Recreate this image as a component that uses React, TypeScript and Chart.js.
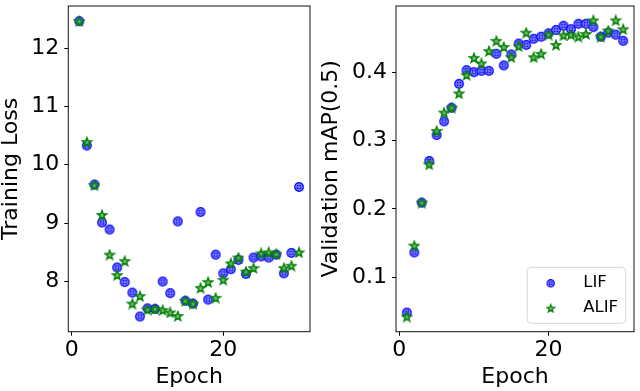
import React, { useEffect, useRef } from "react";
import { Chart, registerables } from "chart.js";

Chart.register(...registerables);

const epochs = [1, 2, 3, 4, 5, 6, 7, 8, 9, 10, 11, 12, 13, 14, 15, 16, 17, 18, 19, 20, 21, 22, 23, 24, 25, 26, 27, 28, 29, 30];

const lossLIF = [12.46, 10.33, 9.66, 9.01, 8.89, 8.24, 7.99, 7.81, 7.40, 7.54, 7.53, 8.00, 7.80, 9.03, 7.67, 7.62, 9.19, 7.69, 8.46, 8.14, 8.21, 8.37, 8.13, 8.41, 8.43, 8.41, 8.46, 8.14, 8.49, 9.62];
const lossALIF = [12.46, 10.39, 9.65, 9.14, 8.46, 8.11, 8.35, 7.62, 7.75, 7.52, 7.53, 7.51, 7.47, 7.41, 7.67, 7.62, 7.89, 7.99, 7.72, 8.03, 8.31, 8.41, 8.17, 8.23, 8.48, 8.50, 8.47, 8.23, 8.27, 8.50];

const mapLIF = [0.048, 0.136, 0.209, 0.270, 0.308, 0.328, 0.348, 0.383, 0.403, 0.400, 0.402, 0.402, 0.427, 0.410, 0.426, 0.442, 0.440, 0.449, 0.452, 0.457, 0.462, 0.468, 0.463, 0.471, 0.471, 0.466, 0.452, 0.458, 0.455, 0.446];
const mapALIF = [0.042, 0.146, 0.209, 0.265, 0.314, 0.341, 0.348, 0.369, 0.396, 0.421, 0.413, 0.431, 0.446, 0.437, 0.422, 0.438, 0.458, 0.422, 0.427, 0.455, 0.440, 0.454, 0.455, 0.452, 0.456, 0.476, 0.452, 0.461, 0.476, 0.463];

const epochTicks = [0, 20];
const lossTicks = [8, 9, 10, 11, 12];
const mapTicks = [0.1, 0.2, 0.3, 0.4];

const seriesNames = ["LIF", "ALIF"];

const FONT = "'DejaVu Sans', sans-serif";
const BLUE = "#0000ff";
const GREEN = "#008000";

function makeLifMarker(): HTMLCanvasElement {
  const c = document.createElement("canvas");
  c.width = 12;
  c.height = 12;
  const g = c.getContext("2d")!;
  const cx = 6, cy = 6;
  g.fillStyle = BLUE;
  g.beginPath();
  g.arc(cx, cy, 4.9, 0, Math.PI * 2);
  g.fill();
  g.strokeStyle = "rgba(255,255,255,0.7)";
  g.lineWidth = 0.8;
  g.beginPath();
  g.arc(cx, cy, 3.2, 0, Math.PI * 2);
  g.stroke();
  g.beginPath();
  g.moveTo(cx - 3.2, cy);
  g.lineTo(cx + 3.2, cy);
  g.moveTo(cx, cy - 3.2);
  g.lineTo(cx, cy + 3.2);
  g.stroke();
  return c;
}

function makeStarMarker(): HTMLCanvasElement {
  const c = document.createElement("canvas");
  c.width = 12;
  c.height = 12;
  const g = c.getContext("2d")!;
  const cx = 6, cy = 6.4;
  const outer = 4.8, inner = 2.0;
  g.beginPath();
  for (let i = 0; i < 10; i++) {
    const r = i % 2 === 0 ? outer : inner;
    const a = -Math.PI / 2 + (i * Math.PI) / 5;
    const x = cx + r * Math.cos(a);
    const y = cy + r * Math.sin(a);
    if (i === 0) g.moveTo(x, y);
    else g.lineTo(x, y);
  }
  g.closePath();
  g.fillStyle = "rgba(110,180,110,0.9)";
  g.fill();
  g.strokeStyle = GREEN;
  g.lineWidth = 1.4;
  g.lineJoin = "miter";
  g.stroke();
  return c;
}

const framePlugin = {
  id: "frame",
  afterDatasetsDraw(chart: any) {
    const { ctx, chartArea } = chart;
    ctx.save();
    ctx.strokeStyle = "#111";
    ctx.lineWidth = 1;
    ctx.strokeRect(chartArea.left, chartArea.top, chartArea.right - chartArea.left, chartArea.bottom - chartArea.top);
    ctx.restore();
  },
};

const legendPlugin = {
  id: "insideLegend",
  afterDraw(chart: any, _args: any, opts: any) {
    if (!opts || !opts.show) return;
    const { ctx, chartArea } = chart;
    const w = 98.5, h = 56;
    const x = chartArea.right - 8.3 - w;
    const y = chartArea.bottom - 8.4 - h;
    ctx.save();
    ctx.beginPath();
    ctx.roundRect(x, y, w, h, 4);
    ctx.fillStyle = "rgba(255,255,255,0.8)";
    ctx.fill();
    ctx.strokeStyle = "#d6d6d6";
    ctx.lineWidth = 1;
    ctx.stroke();
    ctx.font = `16.5px ${FONT}`;
    ctx.fillStyle = "#000";
    ctx.textBaseline = "alphabetic";
    ctx.textAlign = "left";
    const rows = [
      { my: y + 16, by: y + 20, ds: chart.data.datasets[0] },
      { my: y + 41, by: y + 44.5, ds: chart.data.datasets[1] },
    ];
    for (const r of rows) {
      const img = r.ds.pointStyle as HTMLCanvasElement;
      const s = 0.85;
      ctx.drawImage(img, x + 23.5 - (img.width * s) / 2, r.my - (img.height * s) / 2, img.width * s, img.height * s);
      ctx.fillText(r.ds.label, x + 56, r.by);
    }
    ctx.restore();
  },
};

function buildOptions(cfg: {
  yMin: number;
  yMax: number;
  yTicks: number[];
  yTitle: string;
  yWidth: number;
  padRight: number;
  fmt: (v: number) => string;
  legend: boolean;
}) {
  const tickFont = { family: FONT, size: 22 };
  return {
    responsive: false,
    animation: false,
    devicePixelRatio: 1,
    layout: { padding: { left: 0, right: cfg.padRight, top: 2, bottom: 0 } },
    plugins: {
      legend: { display: false },
      tooltip: { enabled: false },
      insideLegend: { show: cfg.legend },
    },
    scales: {
      x: {
        type: "linear",
        min: -0.45,
        max: 31.45,
        afterBuildTicks: (s: any) => {
          s.ticks = epochTicks.map((v) => ({ value: v }));
        },
        afterFit: (s: any) => {
          s.height = 59.3;
          s.paddingLeft = 0;
          s.paddingRight = 0;
        },
        grid: { drawOnChartArea: false, drawTicks: true, tickLength: 4, color: "#000", tickColor: "#000", lineWidth: 1 },
        border: { display: false },
        ticks: {
          font: tickFont,
          color: "#000",
          padding: 1,
          maxRotation: 0,
          autoSkip: false,
          callback: (v: any) => String(v),
        },
        title: { display: true, text: "Epoch", font: tickFont, color: "#000", padding: { top: 0, bottom: 1 } },
      },
      y: {
        type: "linear",
        min: cfg.yMin,
        max: cfg.yMax,
        afterBuildTicks: (s: any) => {
          s.ticks = cfg.yTicks.map((v) => ({ value: v }));
        },
        afterFit: (s: any) => {
          s.width = cfg.yWidth;
          s.paddingTop = 0;
          s.paddingBottom = 0;
        },
        grid: { drawOnChartArea: false, drawTicks: true, tickLength: 4, color: "#000", tickColor: "#000", lineWidth: 1 },
        border: { display: false },
        ticks: {
          font: tickFont,
          color: "#000",
          padding: 5,
          autoSkip: false,
          callback: (v: any) => cfg.fmt(Number(v)),
        },
        title: { display: true, text: cfg.yTitle, font: tickFont, color: "#000", padding: { top: -2, bottom: 0 } },
      },
    },
  } as any;
}

function buildData(a: number[], b: number[], lif: HTMLCanvasElement, star: HTMLCanvasElement) {
  return {
    datasets: [
      {
        label: seriesNames[0],
        data: epochs.map((e, i) => ({ x: e, y: a[i] })),
        pointStyle: lif,
        pointRadius: 5,
        showLine: false,
        order: 2,
      },
      {
        label: seriesNames[1],
        data: epochs.map((e, i) => ({ x: e, y: b[i] })),
        pointStyle: star,
        pointRadius: 5,
        showLine: false,
        order: 1,
      },
    ],
  };
}

export default function App() {
  const leftRef = useRef<HTMLCanvasElement>(null);
  const rightRef = useRef<HTMLCanvasElement>(null);

  useEffect(() => {
    const lif = makeLifMarker();
    const star = makeStarMarker();
    const left = new Chart(leftRef.current!, {
      type: "scatter",
      data: buildData(lossLIF, lossALIF, lif, star) as any,
      options: buildOptions({
        yMin: 7.14,
        yMax: 12.72,
        yTicks: lossTicks,
        yTitle: "Training Loss",
        yWidth: 68.3,
        padRight: 10,
        fmt: (v) => String(Math.round(v)),
        legend: false,
      }),
      plugins: [framePlugin, legendPlugin],
    });
    const right = new Chart(rightRef.current!, {
      type: "scatter",
      data: buildData(mapLIF, mapALIF, lif, star) as any,
      options: buildOptions({
        yMin: 0.02,
        yMax: 0.497,
        yTicks: mapTicks,
        yTitle: "Validation mAP(0.5)",
        yWidth: 76,
        padRight: 2.7,
        fmt: (v) => v.toFixed(1),
        legend: true,
      }),
      plugins: [framePlugin, legendPlugin],
    });
    return () => {
      left.destroy();
      right.destroy();
    };
  }, []);

  return (
    <div style={{ position: "absolute", left: 0, top: 0, width: 640, height: 391, background: "#fff" }}>
      <canvas ref={leftRef} width={320} height={391} style={{ position: "absolute", left: 0, top: 0, width: 320, height: 391 }} />
      <canvas ref={rightRef} width={320} height={391} style={{ position: "absolute", left: 320, top: 0, width: 320, height: 391 }} />
    </div>
  );
}
